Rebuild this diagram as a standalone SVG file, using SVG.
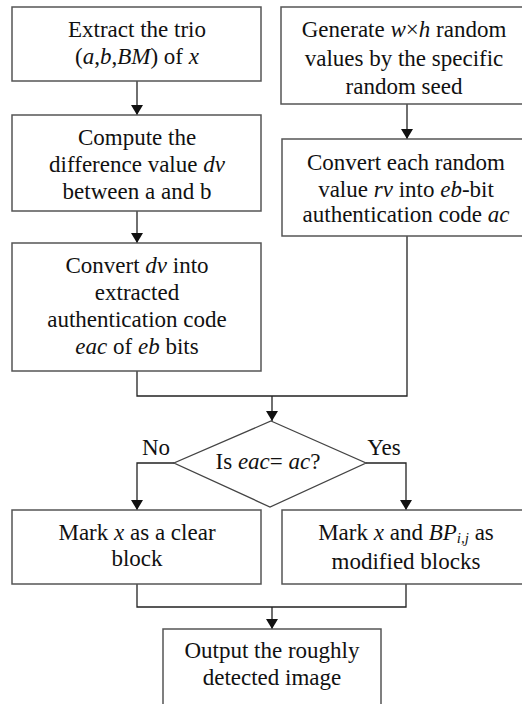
<svg xmlns="http://www.w3.org/2000/svg" width="522" height="704" viewBox="0 0 522 704" font-family="Liberation Serif, DejaVu Serif, serif">
<style>
.box{fill:#fff;stroke:#555;stroke-width:1.5}
.ln{fill:none;stroke:#222;stroke-width:1.3}
text{font-family:'Liberation Serif','DejaVu Serif',serif;font-size:23px;fill:#111;text-anchor:middle}
.i{font-style:italic}
</style>
<defs>
<marker id="ah" viewBox="0 0 10 12" refX="10" refY="6" markerWidth="10" markerHeight="12" markerUnits="userSpaceOnUse" orient="auto">
<path d="M0,0 L10,6 L0,12 Z" fill="#111"/>
</marker>
</defs>
<rect width="522" height="704" fill="#fff"/>
<g id="connectors">
<line class="ln" x1="137" y1="81" x2="137" y2="115" marker-end="url(#ah)"/>
<line class="ln" x1="137" y1="211" x2="137" y2="243" marker-end="url(#ah)"/>
<line class="ln" x1="407" y1="104" x2="407" y2="139" marker-end="url(#ah)"/>
<polyline class="ln" points="137,371 137,396 407,396 407,236"/>
<line class="ln" x1="272" y1="396" x2="272" y2="421" marker-end="url(#ah)"/>
<polyline class="ln" points="174,463 137,463 137,510" marker-end="url(#ah)"/>
<polyline class="ln" points="366,463 406,463 406,510" marker-end="url(#ah)"/>
<polyline class="ln" points="137,584 137,607 406,607 406,584"/>
<line class="ln" x1="272" y1="607" x2="272" y2="629" marker-end="url(#ah)"/>
</g>
<g id="n1">
<rect class="box" x="12" y="7" width="249" height="74"/>
<text x="137" y="37">Extract the trio</text>
<text x="137" y="64">(<tspan class="i">a</tspan>,<tspan class="i">b</tspan>,<tspan class="i">BM</tspan>) of <tspan class="i">x</tspan></text>
</g>
<g id="n2">
<rect class="box" x="12" y="115" width="249" height="96"/>
<text x="137" y="145">Compute the</text>
<text x="137" y="172">difference value <tspan class="i">dv</tspan></text>
<text x="137" y="199">between a and b</text>
</g>
<g id="n3">
<rect class="box" x="12" y="243" width="249" height="128"/>
<text x="137" y="273">Convert <tspan class="i">dv</tspan> into</text>
<text x="137" y="300">extracted</text>
<text x="137" y="327">authentication code</text>
<text x="137" y="354"><tspan class="i">eac</tspan> of <tspan class="i">eb</tspan> bits</text>
</g>
<g id="n4">
<rect class="box" x="281" y="7" width="250" height="97"/>
<text x="404" y="37">Generate <tspan class="i">w</tspan>×<tspan class="i">h</tspan> random</text>
<text x="404" y="66">values by the specific</text>
<text x="404" y="94">random seed</text>
</g>
<g id="n5">
<rect class="box" x="282" y="139" width="250" height="97"/>
<text x="406" y="170">Convert each random</text>
<text x="406" y="197">value <tspan class="i">rv</tspan> into <tspan class="i">eb</tspan>-bit</text>
<text x="406" y="222">authentication code <tspan class="i">ac</tspan></text>
</g>
<g id="d1">
<polygon points="271,421 366,463 270,507 174,463" fill="#fff" stroke="#444" stroke-width="1.3"/>
<text x="268" y="469">Is <tspan class="i">eac</tspan>= <tspan class="i">ac</tspan>?</text>
<text x="156" y="455">No</text>
<text x="384" y="455">Yes</text>
</g>
<g id="n6">
<rect class="box" x="12" y="510" width="249" height="74"/>
<text x="137" y="540">Mark <tspan class="i">x</tspan> as a clear</text>
<text x="137" y="566">block</text>
</g>
<g id="n7">
<rect class="box" x="282" y="510" width="250" height="74"/>
<text x="406" y="540">Mark <tspan class="i">x</tspan> and <tspan class="i">BP</tspan><tspan class="i" font-size="15" dy="3">i,j</tspan><tspan dy="-3"> as</tspan></text>
<text x="406" y="569">modified blocks</text>
</g>
<g id="n8">
<rect class="box" x="163" y="629" width="218" height="90"/>
<text x="272" y="658">Output the roughly</text>
<text x="272" y="685">detected image</text>
</g>
</svg>
